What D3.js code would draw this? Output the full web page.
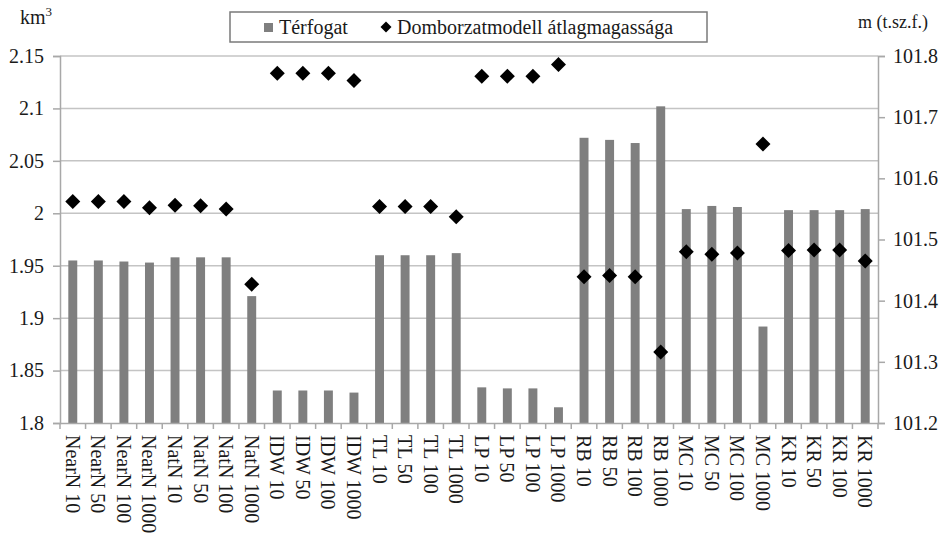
<!DOCTYPE html>
<html>
<head>
<meta charset="utf-8">
<script src="https://cdn.jsdelivr.net/npm/d3@7/dist/d3.min.js"></script>
<style>
  html, body { margin: 0; padding: 0; background: #fff; }
  svg { display: block; font-family: "Liberation Serif", "Times New Roman", serif; }
</style>
</head>
<body>
<svg id="chart" width="945" height="538"></svg>
<script>
// Interpolation methods × resolution
const categories = [
  "NearN 10", "NearN 50", "NearN 100", "NearN 1000",
  "NatN 10", "NatN 50", "NatN 100", "NatN 1000",
  "IDW 10", "IDW 50", "IDW 100", "IDW 1000",
  "TL 10", "TL 50", "TL 100", "TL 1000",
  "LP 10", "LP 50", "LP 100", "LP 1000",
  "RB 10", "RB 50", "RB 100", "RB 1000",
  "MC 10", "MC 50", "MC 100", "MC 1000",
  "KR 10", "KR 50", "KR 100", "KR 1000"
];

// Térfogat (km³), left axis
const volume = [
  1.955, 1.955, 1.954, 1.953,
  1.958, 1.958, 1.958, 1.921,
  1.831, 1.831, 1.831, 1.829,
  1.960, 1.960, 1.960, 1.962,
  1.834, 1.833, 1.833, 1.815,
  2.072, 2.070, 2.067, 2.102,
  2.004, 2.007, 2.006, 1.892,
  2.003, 2.003, 2.003, 2.004
];

// Domborzatmodell átlagmagassága (m t.sz.f.), right axis
const meanHeight = [
  101.562, 101.562, 101.562, 101.552,
  101.556, 101.555, 101.550, 101.427,
  101.772, 101.772, 101.772, 101.760,
  101.554, 101.554, 101.554, 101.537,
  101.767, 101.767, 101.767, 101.786,
  101.439, 101.441, 101.439, 101.316,
  101.480, 101.476, 101.478, 101.656,
  101.482, 101.483, 101.483, 101.465
];

const leftTicks = [1.8, 1.85, 1.9, 1.95, 2.0, 2.05, 2.1, 2.15];
const leftTickLabels = ["1.8", "1.85", "1.9", "1.95", "2", "2.05", "2.1", "2.15"];
const rightTicks = [101.2, 101.3, 101.4, 101.5, 101.6, 101.7, 101.8];
const rightTickLabels = ["101.2", "101.3", "101.4", "101.5", "101.6", "101.7", "101.8"];

const legendLabels = ["Térfogat", "Domborzatmodell átlagmagassága"];
const leftUnit = "km";
const rightUnit = "m (t.sz.f.)";

const svg = d3.select("#chart");
const plot = { left: 60, right: 878, top: 56, bottom: 423 };
const textColor = "#1a1a1a";
const barColor = "#7f7f7f";
const gridColor = "#c4c4c4";
const axisColor = "#a8a8a8";
const fontSize = 20;

const x = d3.scaleBand()
  .domain(categories)
  .range([plot.left, plot.right])
  .paddingInner(0.65)
  .paddingOuter(0.325);

const yL = d3.scaleLinear().domain([1.8, 2.15]).range([plot.bottom, plot.top]);
const yR = d3.scaleLinear().domain([101.2, 101.8]).range([plot.bottom, plot.top]);

// Horizontal gridlines from the left axis ticks
svg.append("g")
  .selectAll("line")
  .data(leftTicks.slice(1))
  .join("line")
  .attr("x1", plot.left).attr("x2", plot.right)
  .attr("y1", d => yL(d)).attr("y2", d => yL(d))
  .attr("stroke", gridColor).attr("stroke-width", 1.5);

// Bars
svg.append("g")
  .selectAll("rect")
  .data(categories)
  .join("rect")
  .attr("x", d => x(d))
  .attr("width", x.bandwidth())
  .attr("y", (d, i) => yL(volume[i]))
  .attr("height", (d, i) => yL(1.8) - yL(volume[i]))
  .attr("fill", barColor);

// Diamond markers
function diamond(cx, cy, r) {
  return `M${cx},${cy - r}L${cx + r},${cy}L${cx},${cy + r}L${cx - r},${cy}Z`;
}
svg.append("g")
  .selectAll("path")
  .data(categories)
  .join("path")
  .attr("d", (d, i) => diamond(x(d) + x.bandwidth() / 2, yR(meanHeight[i]), 7.5))
  .attr("fill", "#000");

// Left axis
const leftAxis = svg.append("g")
  .attr("transform", `translate(${plot.left},0)`)
  .call(d3.axisLeft(yL)
    .tickValues(leftTicks)
    .tickSize(7)
    .tickPadding(9)
    .tickFormat((d, i) => leftTickLabels[i]));

// Right axis
const rightAxis = svg.append("g")
  .attr("transform", `translate(${plot.right},0)`)
  .call(d3.axisRight(yR)
    .tickValues(rightTicks)
    .tickSize(7)
    .tickPadding(8)
    .tickFormat((d, i) => rightTickLabels[i]));

// Bottom axis: labels at category centres, ticks on category boundaries
const bottomAxis = svg.append("g")
  .attr("transform", `translate(0,${plot.bottom})`)
  .call(d3.axisBottom(x).tickSize(0).tickPadding(0));

bottomAxis.selectAll(".tick text")
  .attr("transform", "rotate(90)")
  .attr("x", 12)
  .attr("y", 0)
  .attr("dy", "0.35em")
  .attr("text-anchor", "start");

const step = x.step();
bottomAxis.append("g")
  .selectAll("line")
  .data(d3.range(categories.length + 1))
  .join("line")
  .attr("x1", i => plot.left + i * step)
  .attr("x2", i => plot.left + i * step)
  .attr("y1", 0).attr("y2", 6)
  .attr("stroke", axisColor).attr("stroke-width", 1.5);

[leftAxis, rightAxis, bottomAxis].forEach(g => {
  g.selectAll(".domain").attr("stroke", axisColor).attr("stroke-width", 1.5);
  g.selectAll(".tick line").attr("stroke", axisColor).attr("stroke-width", 1.5);
  g.selectAll(".tick text")
    .attr("fill", textColor)
    .style("font-size", fontSize + "px")
    .style("font-family", "'Liberation Serif', 'Times New Roman', serif");
});

// Unit labels
const kmLabel = svg.append("text")
  .attr("x", 20).attr("y", 24)
  .attr("fill", textColor)
  .style("font-size", fontSize + "px")
  .text(leftUnit);
kmLabel.append("tspan")
  .attr("dy", -8)
  .style("font-size", "13px")
  .text("3");

svg.append("text")
  .attr("x", 858).attr("y", 28)
  .attr("fill", textColor)
  .style("font-size", "18px")
  .text(rightUnit);

// Legend
const legend = svg.append("g");
legend.append("rect")
  .attr("x", 230).attr("y", 12)
  .attr("width", 477).attr("height", 30)
  .attr("fill", "#fff")
  .attr("stroke", "#7a7a7a").attr("stroke-width", 1.5);
legend.append("rect")
  .attr("x", 264).attr("y", 23)
  .attr("width", 9).attr("height", 9)
  .attr("fill", barColor);
legend.append("text")
  .attr("x", 279).attr("y", 34)
  .attr("fill", textColor)
  .style("font-size", fontSize + "px")
  .text(legendLabels[0]);
legend.append("path")
  .attr("d", diamond(386, 27, 5.5))
  .attr("fill", "#000");
legend.append("text")
  .attr("x", 397).attr("y", 34)
  .attr("fill", textColor)
  .style("font-size", fontSize + "px")
  .text(legendLabels[1]);
</script>
</body>
</html>
